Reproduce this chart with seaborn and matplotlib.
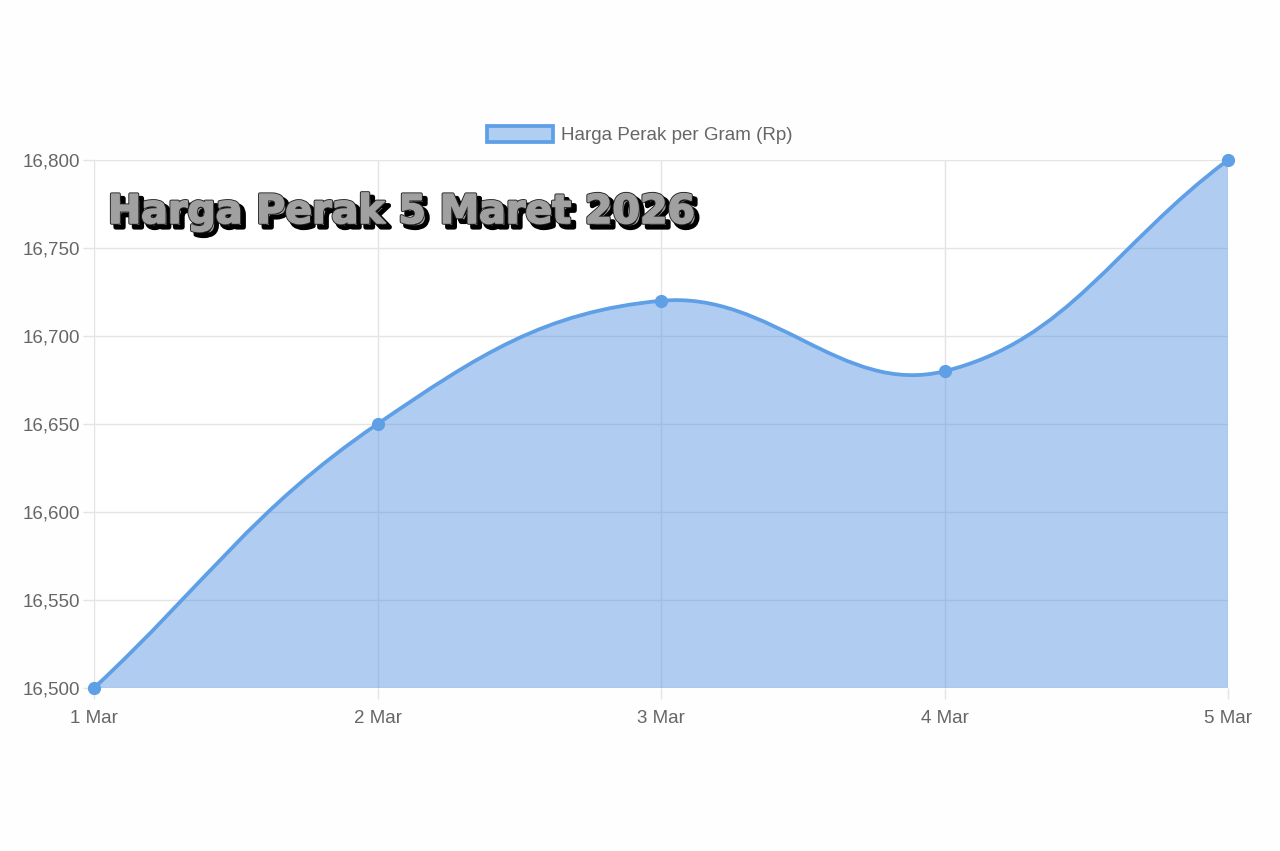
import matplotlib

matplotlib.use("Agg")
import matplotlib.patheffects as pe
import matplotlib.pyplot as plt
import numpy as np
import pandas as pd
import seaborn as sns
from matplotlib.patches import PathPatch, Rectangle
from matplotlib.path import Path

""" Silver price per gram, 1-5 March """

days = ["1 Mar", "2 Mar", "3 Mar", "4 Mar", "5 Mar"]
prices = [16500, 16650, 16720, 16680, 16800]
y_ticks = [16500, 16550, 16600, 16650, 16700, 16750, 16800]
y_labels = ["16,500", "16,550", "16,600", "16,650", "16,700", "16,750", "16,800"]
legend_label = "Harga Perak per Gram (Rp)"
title = "Harga Perak 5 Maret 2026"

LINE = "#5e9fe6"
FILL = (80 / 255, 144 / 255, 226 / 255, 0.45)
GRID = "#e4e4e4"
TEXT = "#666666"
TITLE_GREY = "#a0a0a0"


def _spline_path(xs, ys, sx, sy, tension=0.4):
    # bezier control points like Chart.js, distances measured in pixels
    px = np.asarray(xs, float) * sx
    py = np.asarray(ys, float) * sy
    n = len(px)
    ctrl = []
    for i in range(n):
        a, b = max(i - 1, 0), min(i + 1, n - 1)
        d01 = np.hypot(px[i] - px[a], py[i] - py[a])
        d12 = np.hypot(px[b] - px[i], py[b] - py[i])
        tot = d01 + d12
        fa, fb = tension * d01 / tot, tension * d12 / tot
        dx, dy = px[b] - px[a], py[b] - py[a]
        ctrl.append(((px[i] - fa * dx, py[i] - fa * dy), (px[i] + fb * dx, py[i] + fb * dy)))
    verts = [(px[0], py[0])]
    codes = [Path.MOVETO]
    for i in range(n - 1):
        verts += [ctrl[i][1], ctrl[i + 1][0], (px[i + 1], py[i + 1])]
        codes += [Path.CURVE4] * 3
    verts = [(vx / sx, vy / sy) for vx, vy in verts]
    return verts, codes


sns.set_theme(style="white")
plt.rcParams["font.family"] = ["Liberation Sans", "DejaVu Sans"]

df = pd.DataFrame({"day": days, "pos": range(len(days)), "price": prices})

fig = plt.figure(figsize=(12.8, 8.51), dpi=100)
fig.patch.set_facecolor("#fefefe")
ax = fig.add_axes([94 / 1280, 1 - 688 / 851, (1228 - 94) / 1280, (688 - 160) / 851])
ax.set_facecolor("white")

# scale: px per unit on each axis
sx = (1228 - 94) / 4
sy = (688 - 160) / 300
verts, codes = _spline_path(df["pos"], df["price"], sx, sy)

fill_verts = verts + [(df["pos"].iloc[-1], y_ticks[0]), (df["pos"].iloc[0], y_ticks[0]), verts[0]]
fill_codes = codes + [Path.LINETO, Path.LINETO, Path.CLOSEPOLY]
ax.add_patch(PathPatch(Path(fill_verts, fill_codes), facecolor=FILL, edgecolor="none", zorder=2))
ax.add_patch(PathPatch(Path(verts, codes), facecolor="none", edgecolor=LINE, lw=2.7,
                       zorder=3, clip_on=False, capstyle="round", joinstyle="round"))

sns.scatterplot(data=df, x="pos", y="price", ax=ax, s=72, color=LINE, edgecolor=LINE,
                linewidth=1, zorder=4, clip_on=False, legend=False)

ax.set_xlim(0, 4)
ax.set_ylim(y_ticks[0], y_ticks[-1])
ax.set_xticks(df["pos"])
ax.set_xticklabels(days)
ax.set_yticks(y_ticks)
ax.set_yticklabels(y_labels)
ax.set_xlabel("")
ax.set_ylabel("")
ax.grid(True, color=GRID, lw=1, zorder=1)
ax.set_axisbelow(True)
for s in ax.spines.values():
    s.set_visible(False)
ax.tick_params(axis="both", length=8, width=1, color=GRID, labelcolor=TEXT,
               labelsize=13.5, pad=2, bottom=True, left=True)
ax.tick_params(axis="x", pad=8)

handle = Rectangle((0, 0), 1, 1, facecolor="#b0cdf2", edgecolor=LINE, lw=2.7)
fig.legend([handle], [legend_label], loc="center", bbox_to_anchor=(0.5, 1 - 135 / 851),
           frameon=False, fontsize=13.5, labelcolor=TEXT, handlelength=3.5,
           handleheight=1.0, handletextpad=0.45)

fig.text(108 / 1280, 1 - 212 / 851, title, fontsize=28.5, fontweight="heavy",
         family=["DejaVu Sans"], color=TITLE_GREY, va="center", ha="left",
         path_effects=[pe.Stroke(linewidth=3.5, foreground="black", offset=(3, -3)),
                       pe.Stroke(linewidth=2.5, foreground="#222222"),
                       pe.Stroke(linewidth=1.2, foreground=TITLE_GREY),
                       pe.Normal()])

fig.savefig("out.png", dpi=100, facecolor=fig.get_facecolor())
